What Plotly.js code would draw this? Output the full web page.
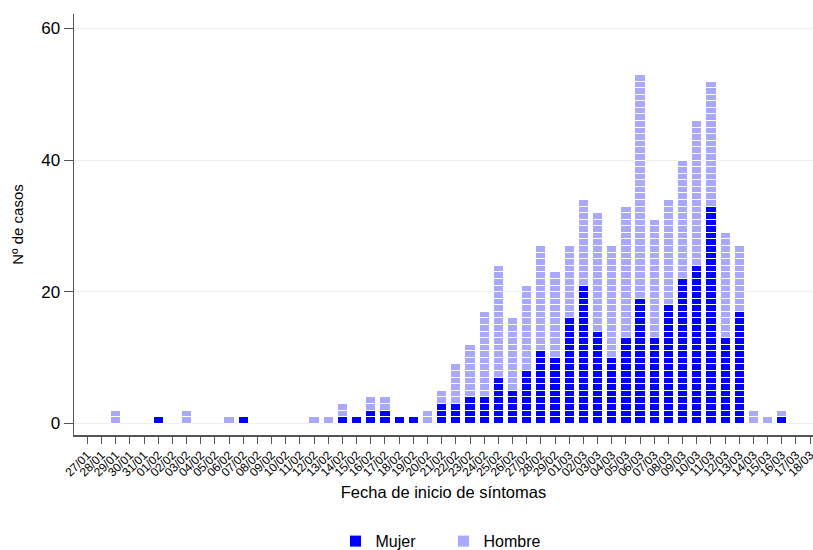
<!DOCTYPE html>
<html>
<head>
<meta charset="utf-8">
<script src="https://cdn.plot.ly/plotly-3.0.1.min.js"></script>
<style>html,body{margin:0;padding:0;background:#fff;}#chart{width:813px;height:550px;}</style>
</head>
<body>
<div id="chart"></div>
<script>
const fechas = ["27/01","28/01","29/01","30/01","31/01","01/02","02/02","03/02","04/02","05/02","06/02","07/02","08/02","09/02","10/02","11/02","12/02","13/02","14/02","15/02","16/02","17/02","18/02","19/02","20/02","21/02","22/02","23/02","24/02","25/02","26/02","27/02","28/02","29/02","01/03","02/03","03/03","04/03","05/03","06/03","07/03","08/03","09/03","10/03","11/03","12/03","13/03","14/03","15/03","16/03","17/03","18/03"];
const mujer  = [0,0,0,0,0,1,0,0,0,0,0,1,0,0,0,0,0,0,1,1,2,2,1,1,0,3,3,4,4,7,5,8,11,10,16,21,14,10,13,19,13,18,22,24,33,13,17,0,0,1,0,0];
const hombre = [0,0,2,0,0,0,0,2,0,0,1,0,0,0,0,0,1,1,2,0,2,2,0,0,2,2,6,8,13,17,11,13,16,13,11,13,18,17,20,34,18,16,18,22,19,16,10,2,1,1,0,0];
const yTicks = [0,20,40,60];

const colorMujer = "#0000ff";
const colorHombre = "#a8a8fc";

const traces = [];
function addUnits(values, name, color, group) {
  const maxV = Math.max(...values);
  for (let k = 1; k <= maxV; k++) {
    traces.push({
      type: "bar",
      x: fechas,
      y: values.map(v => v >= k ? 1 : null),
      name: name,
      legendgroup: group,
      showlegend: k === 1,
      marker: {color: color, line: {color: "#ffffff", width: 1}},
      hoverinfo: "skip"
    });
  }
}
addUnits(mujer, "Mujer", colorMujer, "m");
addUnits(hombre, "Hombre", colorHombre, "h");

const axisColor = "#555555";
const layout = {
  width: 813, height: 550,
  margin: {l: 74, r: 0, t: 14, b: 115},
  barmode: "stack",
  bargap: 0.28,
  paper_bgcolor: "#ffffff",
  plot_bgcolor: "#ffffff",
  font: {family: "Liberation Sans, Arial, sans-serif", color: "#000000"},
  showlegend: true,
  legend: {
    orientation: "h", x: 0.5, xanchor: "center",
    yref: "container", y: 0.016, yanchor: "middle",
    font: {size: 16}, traceorder: "normal",
    entrywidth: 63, entrywidthmode: "pixels"
  },
  xaxis: {
    type: "category",
    range: [-0.94, 51.2],
    tickmode: "array", tickvals: fechas, ticktext: fechas,
    tickangle: -45,
    tickfont: {size: 12},
    ticks: "outside", ticklen: 7, tickcolor: axisColor,
    showline: true, linecolor: axisColor, linewidth: 1.5,
    showgrid: false, zeroline: false,
    title: {text: "Fecha de inicio de síntomas", font: {size: 16.5}, standoff: 8}
  },
  yaxis: {
    range: [-1.8, 62.2],
    tickmode: "array", tickvals: yTicks, ticktext: yTicks.map(String),
    tickfont: {size: 17},
    ticks: "outside", ticklen: 9, tickcolor: axisColor,
    showline: true, linecolor: axisColor, linewidth: 1.5,
    showgrid: true, gridcolor: "#e8f0f1", gridwidth: 1,
    zeroline: false,
    title: {text: "Nº de casos", font: {size: 15}, standoff: 14}
  }
};

Plotly.newPlot("chart", traces, layout, {displayModeBar: false, staticPlot: true});
</script>
</body>
</html>
